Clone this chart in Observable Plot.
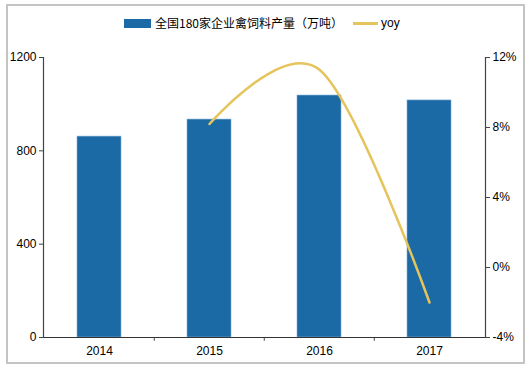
<!DOCTYPE html>
<html>
<head>
<meta charset="utf-8">
<script src="https://cdn.jsdelivr.net/npm/d3@7"></script>
<script src="https://cdn.jsdelivr.net/npm/@observablehq/plot@0.6"></script>
<style>
  html, body { margin: 0; padding: 0; background: #fff; }
  #wrap { position: relative; width: 529px; height: 368px; font-family: "Liberation Sans", Arial, sans-serif; }
  #border { position: absolute; left: 6px; top: 4px; width: 515px; height: 356px; border: 2px solid #c4c4c4; box-sizing: content-box; pointer-events: none; }
  #legend { position: absolute; top: 15px; left: 0; width: 529px; height: 16px; font-size: 12px; color: #000; }
  .sw { position: absolute; }
  .lt { position: absolute; top: 0; line-height: 16px; white-space: nowrap; }
  #chart { position: absolute; left: 0; top: 0; }
</style>
</head>
<body>
<div id="wrap">
  <div id="chart"></div>
  <div id="legend">
    <div class="sw" style="left:124px; top:4px; width:27px; height:9px; background:#1b6aa5;"></div>
    <div class="lt" style="left:155px; font-family:'Noto Sans CJK SC', sans-serif;">全国180家企业禽饲料产量（万吨）</div>
    <div class="sw" style="left:353px; top:7px; width:25px; height:3px; background:#e6c45c;"></div>
    <div class="lt" style="left:381px;">yoy</div>
  </div>
  <div id="border"></div>
</div>
<script>
const years = ["2014", "2015", "2016", "2017"];
const output = [861, 934, 1037, 1016];
const yoyYears = ["2015", "2016", "2017"];
const yoy = [8.2, 11.3, -2.0];
const leftTicks = [0, 400, 800, 1200];
const rightTicks = [-4, 0, 4, 8, 12];

const LMAX = 1200, RMIN = -4, RMAX = 12;
const toLeft = v => (v - RMIN) / (RMAX - RMIN) * LMAX;

const bars = years.map((y, i) => ({year: y, value: output[i]}));
const line = yoyYears.map((y, i) => ({year: y, v: toLeft(yoy[i])}));

const plot = Plot.plot({
  width: 529,
  height: 368,
  marginTop: 57,
  marginBottom: 31,
  marginLeft: 43,
  marginRight: 44,
  style: {fontFamily: "'Liberation Sans', Arial, sans-serif", fontSize: "12px", color: "#000", background: "transparent"},
  x: {domain: years, paddingInner: 0.6, paddingOuter: 0.3, label: null},
  y: {domain: [0, LMAX], label: null},
  marks: [
    Plot.barY(bars, {x: "year", y: "value", fill: "#1b6aa5", stroke: "#7fb0d8", strokeWidth: 0.6}),
    Plot.line(line, {x: "year", y: "v", stroke: "#e6c45c", strokeWidth: 2.5, curve: "cardinal"}),
    Plot.ruleY([0], {stroke: "#333", strokeWidth: 1.2}),
    Plot.frame({anchor: "left", stroke: "#444", strokeWidth: 1.2}),
    Plot.frame({anchor: "right", stroke: "#444", strokeWidth: 1.2}),
    Plot.ruleX(years.slice(1), {x: d => d, dx: -55.25, y1: 0, y2: -16, stroke: "#444"}),
    Plot.axisY(leftTicks, {anchor: "left", tickSize: 4, tickPadding: 3, stroke: "#444", label: null, tickFormat: d => String(d)}),
    Plot.axisY(rightTicks.map(toLeft), {anchor: "right", tickSize: 4, tickPadding: 3, stroke: "#444", label: null,
      tickFormat: d => Math.round(d / LMAX * (RMAX - RMIN) + RMIN) + "%"}),
    Plot.axisX({anchor: "bottom", tickSize: 0, tickPadding: 9, label: null})
  ]
});
document.getElementById("chart").appendChild(plot);
</script>
</body>
</html>
